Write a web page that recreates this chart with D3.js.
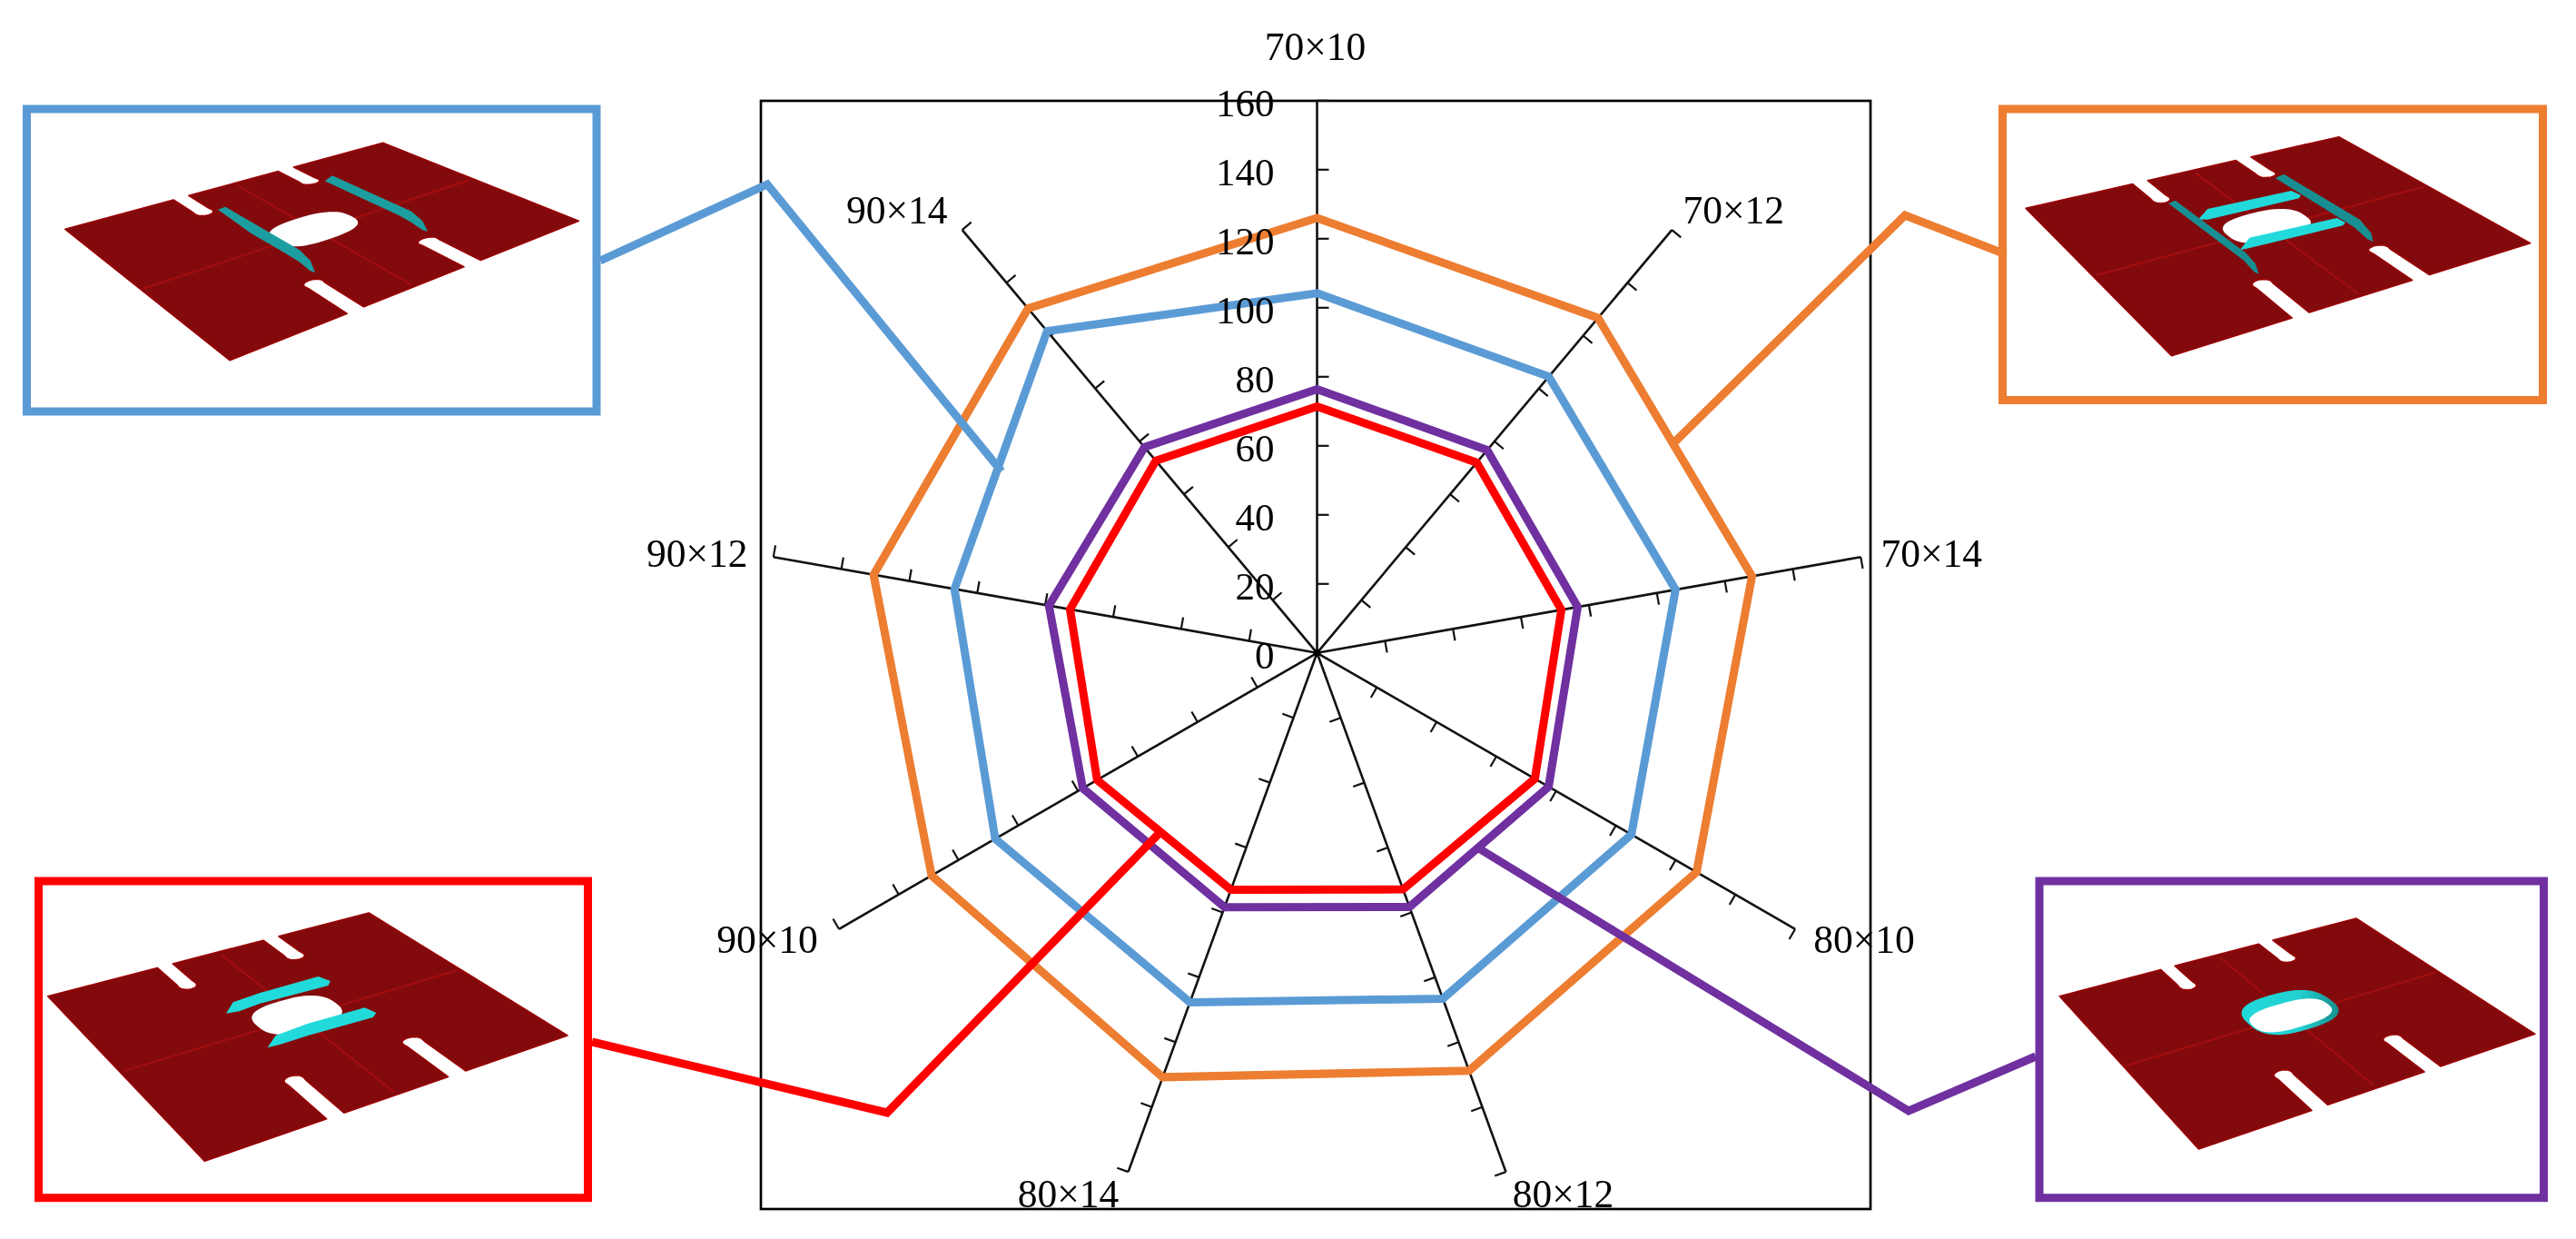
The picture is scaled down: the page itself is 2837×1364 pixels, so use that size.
<!DOCTYPE html>
<html><head><meta charset="utf-8">
<style>html,body{margin:0;padding:0;background:#fff}svg{display:block;filter:blur(0.45px)}text{font-family:"Liberation Serif",serif;fill:#000}</style>
<script src="https://cdn.jsdelivr.net/npm/d3@7"></script>
</head><body><svg id="c" width="2837" height="1364"></svg>
<script>
// ---- chart data ----
const categories = ["70×10","70×12","70×14","80×10","80×12","80×14","90×10","90×12","90×14"];
const tickValues = [0,20,40,60,80,100,120,140,160];
const seriesOrange = [126,126.7,128,127,128.8,130.8,129,130.5,130.3];
const seriesBlue   = [104.2,104.5,105.5,105.2,106.6,107.7,107.7,106.7,121.7];
const seriesPurple = [76.4,76.7,76.7,77.5,78.3,78.4,78.4,78.9,77.8];
const seriesRed    = [71.4,72,71.9,72.9,72.9,73,73.6,72.7,72.7];
const colors = {blue:"#5B9BD5",orange:"#ED7D31",red:"#FF0000",purple:"#7030A0"};

// ---- layout ----
const cx=1450.5, cy=718.8, R=608;
const frame={x:838,y:111,w:1222,h:1220};
const labelNudge=[[-2,-60],[68,-22],[78,-4],[76,11],[63,24],[-66,24],[-79,11],[-84,-4],[-72,-22]];

const svg=d3.select("#c");
const defs=svg.append("defs");
const ringGrad=defs.append("linearGradient").attr("id","ring").attr("x1","0").attr("x2","1");
ringGrad.append("stop").attr("offset","0").attr("stop-color","#22dada");
ringGrad.append("stop").attr("offset","0.6").attr("stop-color","#22d0d0");
ringGrad.append("stop").attr("offset","1").attr("stop-color","#178f90");

const r=d3.scaleLinear().domain([0,160]).range([0,R]);
const angle=d3.scalePoint().domain(categories).range([0,2*Math.PI*8/9]);
const polar=(a,rad)=>[rad*Math.sin(a),-rad*Math.cos(a)];

const plot=svg.append("g").attr("transform",`translate(${cx},${cy})`);
svg.insert("rect","g").attr("x",frame.x).attr("y",frame.y).attr("width",frame.w).attr("height",frame.h)
  .attr("fill","none").attr("stroke","#000").attr("stroke-width",2.7);

// spokes and ticks
categories.forEach(c=>{
  const a=angle(c), g=plot.append("g");
  const e=polar(a,r(160));
  g.append("line").attr("x2",e[0]).attr("y2",e[1]).attr("stroke","#111").attr("stroke-width",2.6);
  const tx=Math.cos(a), ty=Math.sin(a);
  g.selectAll("line.t").data(tickValues.slice(1)).join("line").attr("class","t")
   .attr("x1",v=>polar(a,r(v))[0]).attr("y1",v=>polar(a,r(v))[1])
   .attr("x2",v=>polar(a,r(v))[0]+13*tx).attr("y2",v=>polar(a,r(v))[1]+13*ty)
   .attr("stroke","#111").attr("stroke-width",2.2);
});
plot.append("circle").attr("r",4).attr("fill","#000");

// series
const radial=d3.lineRadial().angle((d,i)=>angle(categories[i])).radius(d=>r(d)).curve(d3.curveLinearClosed);
[[seriesBlue,colors.blue],[seriesOrange,colors.orange],[seriesPurple,colors.purple],[seriesRed,colors.red]].forEach(([s,col])=>{
  plot.append("path").attr("d",radial(s)).attr("fill","none").attr("stroke",col).attr("stroke-width",9).attr("stroke-linejoin","miter");
});

// ---- inset illustrations ----
const insets=[
 {col:colors.blue, box:[29.5,120,657,453], z:[0,80,2.063,3],
  plate:[[148,517],[870,232],[1315,490],[522,950]], callout:[[661,287],[845,203],[1103,519]]},
 {col:colors.orange, box:[2205.5,120,2800.5,440.5], z:[2180,100,2.387,3],
  plate:[[122,388],[945,152],[1448,503],[505,875]], callout:[[2209,280],[2098,237],[1843,488]]},
 {col:colors.red, box:[42.5,970,647.5,1318.7], z:[0,950,2.24,3],
  plate:[[118,440],[910,165],[1400,570],[505,985]], callout:[[652,1147],[977,1225],[1277,917]]},
 {col:colors.purple, box:[2246,970,2801.5,1318.7], z:[2200,950,2.4615,3],
  plate:[[168,440],[972,183],[1457,565],[545,945]], callout:[[2242,1163],[2102,1223],[1627,933]]}
];
// stiffeners, as traced outlines of each picture
const ribsDark=[
 [[[495,452],[512,443],[680,585],[705,620],[716,660],[705,655],[680,625],[650,598],[570,530]],
  [[738,358],[755,340],[935,458],[960,490],[972,525],[960,520],[935,495],[905,470],[830,420]]],
 [[[497,372],[515,362],[700,535],[725,570],[735,605],[722,598],[695,560],[600,470]],
  [[778,288],[800,275],[1000,425],[1030,470],[1035,498],[1020,490],[985,450],[870,360]]],
 [],[]];
const ribsBright=[
 [],
 [[[575,425],[600,390],[820,330],[845,345],[840,355],[600,425]],
  [[685,525],[710,485],[940,420],[962,435],[955,445],[700,522]]],
 [[[558,497],[575,460],[640,430],[785,375],[815,390],[810,405],[640,465],[590,490]],
  [[660,610],[680,570],[760,530],[900,478],[928,495],[920,510],[760,570],[690,600]]],
 []];
const line=d3.line();
function slotPts(uc,edge,depth,dir,w){
  const pts=[];
  const sgn=edge===0?1:-1;
  const inner=edge+sgn*depth;
  pts.push([uc-dir*w,edge]);
  pts.push([uc-dir*w,inner-sgn*.02]);
  for(let k=0;k<=6;k++){const t=Math.PI-k*Math.PI/6;
    pts.push([uc+dir*w*1.08*Math.cos(t),inner+sgn*.025*Math.sin(t)]);}
  pts.push([uc+dir*w,inner-sgn*.02]);
  pts.push([uc+dir*w,edge]);
  return pts;
}
function obround(cu,cv,a,b){
  return d3.range(0,48).map(i=>{const t=i/48*2*Math.PI,c=Math.cos(t),s=Math.sin(t);
    return [cu+a*Math.sign(c)*Math.pow(Math.abs(c),.75),cv+b*Math.sign(s)*Math.pow(Math.abs(s),.75)];});
}
insets.forEach((ins,idx)=>{
  const [x0,y0,sx,sy]=ins.z;
  const px=p=>[x0+p[0]/sx,y0+p[1]/sy];
  const [L,T,Rr,B]=ins.plate.map(px);
  const map=([u,v])=>[
    (1-u)*(1-v)*L[0]+u*(1-v)*T[0]+u*v*Rr[0]+(1-u)*v*B[0],
    (1-u)*(1-v)*L[1]+u*(1-v)*T[1]+u*v*Rr[1]+(1-u)*v*B[1]];
  const [bx0,by0,bx1,by1]=ins.box;
  svg.append("path").attr("d",line(ins.callout)).attr("fill","none").attr("stroke",ins.col).attr("stroke-width",9);
  const g=svg.append("g");
  const w=.024, dt=.13, db=.24;
  const outline=[[0,0],...slotPts(.365,0,dt,1,w),...slotPts(.695,0,dt,1,w),[1,0],[1,1],
                 ...slotPts(.695,1,db,-1,w),...slotPts(.36,1,db,-1,w),[0,1]];
  g.append("path").attr("d",line(outline.map(map))+"Z").attr("fill","#830A0C").attr("stroke","#9A0205").attr("stroke-width",1.6).attr("stroke-linejoin","round");
  [[[.53,.02],[.53,.98]],[[.01,.46],[.99,.46]]].forEach(seg=>{
    g.append("path").attr("d",line(seg.map(map))).attr("stroke","#A40D10").attr("stroke-width",2).attr("fill","none");
  });
  if(idx===3){
    g.append("path").attr("d",line(obround(.54,.436,.13,.125).map(map))+"Z").attr("fill","url(#ring)");
    g.append("path").attr("d",line(obround(.533,.455,.118,.08).map(map))+"Z").attr("fill","#fff");
  } else {
    g.append("path").attr("d",line(obround(.53,.44,.115,.095).map(map))+"Z").attr("fill","#fff");
  }
  ribsBright[idx].forEach(p=>g.append("path").attr("d",line(p.map(px))+"Z").attr("fill","#22DADA"));
  ribsDark[idx].forEach(p=>g.append("path").attr("d",line(p.map(px))+"Z").attr("fill",idx===1?"#178F92":"#1C9DA0"));
  svg.append("rect").attr("x",bx0).attr("y",by0).attr("width",bx1-bx0).attr("height",by1-by0)
    .attr("fill","none").attr("stroke",ins.col).attr("stroke-width",9);
});

// ---- texts ----
plot.selectAll("text.v").data(tickValues).join("text").attr("class","v")
  .attr("x",-47).attr("y",v=>-r(v)+17.5).attr("text-anchor","end").attr("font-size",43).text(v=>v);
plot.selectAll("text.c").data(categories).join("text").attr("class","c")
  .attr("x",(c,i)=>polar(angle(c),R)[0]+labelNudge[i][0])
  .attr("y",(c,i)=>polar(angle(c),R)[1]+labelNudge[i][1]+15)
  .attr("text-anchor","middle").attr("font-size",43.5).text(c=>c);
</script></body></html>
